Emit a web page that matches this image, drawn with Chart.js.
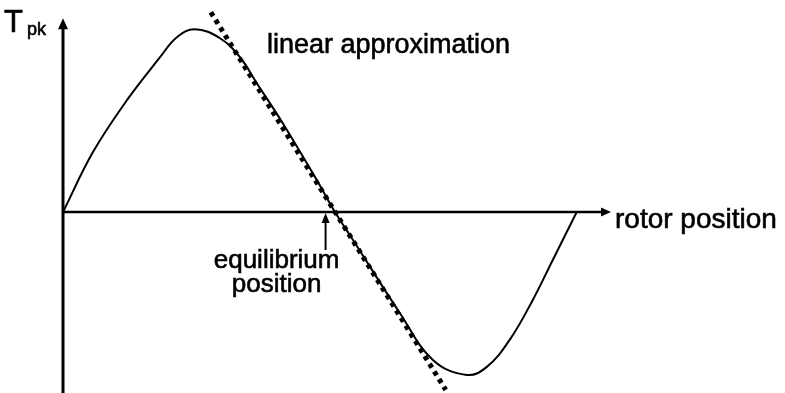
<!DOCTYPE html>
<html>
<head>
<style>
    body { margin: 0; background: #ffffff; }
    #wrap { position: relative; width: 785px; height: 393px; }
</style>
<script src="https://cdn.jsdelivr.net/npm/chart.js@4"></script>
<script type="text/javascript">

    // torque vs rotor position (arbitrary units, peak torque = 1)
    var rotorPos = [0, 10.5, 22.4, 34.0, 39.9, 46.2, 55.0, 62.0, 67.9, 77.0, 88.9, 95.3,
                    101.6, 118.0, 129.6, 141.5, 148.5, 156.5, 164.6, 171.6, 180];
    var torque   = [0, 0.328, 0.612, 0.847, 0.956, 1.0, 0.951, 0.847, 0.705, 0.486, 0.175, 0,
                    -0.153, -0.552, -0.809, -0.891, -0.847, -0.699, -0.481, -0.262, 0];

    // tangent through the equilibrium point
    var linPos = [51.8, 134.1];
    var linTorque = [1.093, -0.973];

    var equilibriumPos = 92;
    var xMax = 192, yMin = -0.99, yMax = 1.1, yArrowTop = 1.06;

    var font = '"Liberation Sans", Arial, sans-serif';

    function pts(xs, ys) {
        return xs.map(function (x, i) { return { x: x, y: ys[i] }; });
    }

    function arrowHead(ctx, x, y, dir, len, half) {
        ctx.beginPath();
        if (dir == 'up') {
            ctx.moveTo(x, y);
            ctx.lineTo(x - half, y + len);
            ctx.lineTo(x + half, y + len);
        } else {
            ctx.moveTo(x, y);
            ctx.lineTo(x - len, y - half);
            ctx.lineTo(x - len, y + half);
        }
        ctx.closePath();
        ctx.fill();
    }

    // slightly heavier text, like the printed labels
    function label(ctx, txt, x, y) {
        ctx.fillText(txt, x, y);
        ctx.strokeText(txt, x, y);
    }

    var axesPlugin = {
        id: 'axesArrows',
        beforeDatasetsDraw: function (chart) {
            var ctx = chart.ctx;
            var xs = chart.scales.x, ys = chart.scales.y;
            var x0 = xs.getPixelForValue(0);
            var y0 = ys.getPixelForValue(0);
            var xEnd = xs.getPixelForValue(xMax);
            var yTop = ys.getPixelForValue(yArrowTop);
            var yBot = ys.getPixelForValue(yMin);

            ctx.save();
            ctx.strokeStyle = '#000';
            ctx.fillStyle = '#000';

            // vertical axis
            ctx.lineWidth = 3;
            ctx.beginPath();
            ctx.moveTo(x0, yBot);
            ctx.lineTo(x0, yTop + 8);
            ctx.stroke();
            arrowHead(ctx, x0, yTop, 'up', 11, 5);

            // horizontal axis
            ctx.lineWidth = 2.5;
            ctx.beginPath();
            ctx.moveTo(x0, y0);
            ctx.lineTo(xEnd - 8, y0);
            ctx.stroke();
            arrowHead(ctx, xEnd, y0, 'right', 10, 4.5);
            ctx.restore();
        },
        afterDraw: function (chart) {
            var ctx = chart.ctx;
            var xs = chart.scales.x, ys = chart.scales.y;
            var y0 = ys.getPixelForValue(0);
            var xe = xs.getPixelForValue(equilibriumPos);

            ctx.save();
            ctx.fillStyle = '#000';
            ctx.strokeStyle = '#000';

            // equilibrium pointer
            ctx.lineWidth = 2;
            ctx.beginPath();
            ctx.moveTo(xe, y0 + 38);
            ctx.lineTo(xe, y0 + 9);
            ctx.stroke();
            arrowHead(ctx, xe, y0 + 1, 'up', 10, 4);

            ctx.lineWidth = 0.6;
            ctx.textBaseline = 'alphabetic';
            ctx.textAlign = 'center';
            ctx.font = '26px ' + font;
            label(ctx, 'equilibrium', xe - 49, 268);
            label(ctx, 'position', xe - 49, 292);

            ctx.textAlign = 'left';
            ctx.font = '27px ' + font;
            label(ctx, 'linear approximation', 267, 53);

            ctx.font = '28px ' + font;
            label(ctx, 'rotor position', 615, 228);

            ctx.font = '31px ' + font;
            label(ctx, 'T', 4, 32);
            ctx.font = '18px ' + font;
            label(ctx, 'pk', 27, 35);
            ctx.restore();
        }
    };

    function drawChart() {
        var config = {
            type: 'line',
            data: {
                datasets: [{
                    label: 'Torque',
                    data: pts(rotorPos, torque),
                    borderColor: '#000',
                    borderWidth: 2,
                    pointRadius: 0,
                    fill: false,
                    tension: 0.4
                }, {
                    label: 'Linear approximation',
                    data: pts(linPos, linTorque),
                    borderColor: '#000',
                    borderWidth: 5,
                    borderDash: [4.5, 4.5],
                    borderCapStyle: 'butt',
                    pointRadius: 0,
                    fill: false,
                    clip: false
                }]
            },
            options: {
                responsive: true,
                maintainAspectRatio: false,
                animation: false,
                layout: { padding: { left: 63, right: 174, top: 11, bottom: 0 } },
                plugins: {
                    legend: { display: false },
                    tooltip: { enabled: false }
                },
                scales: {
                    x: { type: 'linear', min: 0, max: xMax, display: false },
                    y: { type: 'linear', min: yMin, max: yMax, display: false }
                }
            },
            plugins: [axesPlugin]
        };
        new Chart(document.getElementById('torqueChart'), config);
    }
</script>
</head>
<body onload="drawChart()">
    <div id="wrap">
        <canvas id="torqueChart"></canvas>
    </div>
</body>
</html>
